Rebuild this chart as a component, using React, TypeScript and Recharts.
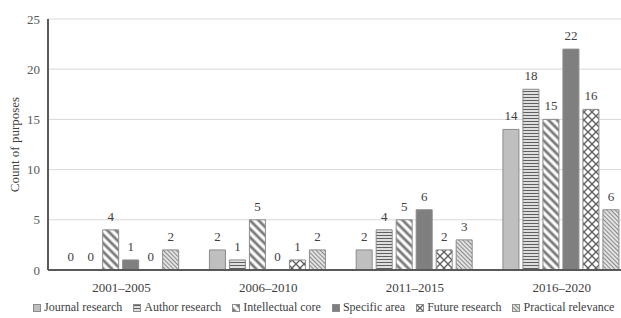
import React from 'react';
import { BarChart, Bar, XAxis, YAxis, CartesianGrid, Legend, LabelList, Cell } from 'recharts';

const periods = ['2001–2005', '2006–2010', '2011–2015', '2016–2020'];
const journalResearch = [0, 2, 2, 14];
const authorResearch = [0, 1, 4, 18];
const intellectualCore = [4, 5, 5, 15];
const specificArea = [1, 0, 6, 22];
const futureResearch = [0, 1, 2, 16];
const practicalRelevance = [2, 2, 3, 6];
const yTicks = [0, 5, 10, 15, 20, 25];

const series = [
  { key: 'journal', name: 'Journal research', values: journalResearch, fill: '#bfbfbf' },
  { key: 'author', name: 'Author research', values: authorResearch, fill: 'url(#pat-author)' },
  { key: 'intellectual', name: 'Intellectual core', values: intellectualCore, fill: 'url(#pat-intellectual)' },
  { key: 'specific', name: 'Specific area', values: specificArea, fill: '#7f7f7f' },
  { key: 'future', name: 'Future research', values: futureResearch, fill: 'url(#pat-future)' },
  { key: 'practical', name: 'Practical relevance', values: practicalRelevance, fill: 'url(#pat-practical)' },
];

const chartData = periods.map((period, i) => {
  const row: Record<string, string | number> = { period };
  series.forEach(s => { row[s.key] = s.values[i]; });
  return row;
});

const FONT = '"Liberation Serif", "Times New Roman", serif';
const TEXT = '#404040';
const EDGE = '#8c8c8c';

function PatternDefs() {
  return (
    <defs>
      <pattern id="pat-author" width="4" height="3" patternUnits="userSpaceOnUse">
        <rect width="4" height="3" fill="#ffffff" />
        <line x1="0" y1="1.5" x2="4" y2="1.5" stroke="#5f5f5f" strokeWidth="1.4" />
      </pattern>
      <pattern id="pat-intellectual" width="6" height="6" patternUnits="userSpaceOnUse" patternTransform="rotate(-45)">
        <rect width="6" height="6" fill="#ffffff" />
        <line x1="3" y1="0" x2="3" y2="6" stroke="#7a7a7a" strokeWidth="2.8" />
      </pattern>
      <pattern id="pat-future" width="8" height="8" patternUnits="userSpaceOnUse">
        <rect width="8" height="8" fill="#ffffff" />
        <line x1="0" y1="0" x2="8" y2="8" stroke="#5f5f5f" strokeWidth="1.3" />
        <line x1="8" y1="0" x2="0" y2="8" stroke="#5f5f5f" strokeWidth="1.3" />
      </pattern>
      <pattern id="pat-practical" width="3" height="3" patternUnits="userSpaceOnUse" patternTransform="rotate(-45)">
        <rect width="3" height="3" fill="#ffffff" />
        <line x1="1.5" y1="0" x2="1.5" y2="3" stroke="#8a8a8a" strokeWidth="1.5" />
      </pattern>
    </defs>
  );
}

// value label above each bar, zeros included
function renderValue(props: any) {
  const { x, y, width, value } = props;
  if (value === undefined || value === null) return null;
  return (
    <text x={Number(x) + Number(width) / 2} y={Number(y) - 9} textAnchor="middle" fontSize={13} fill={TEXT} fontFamily={FONT}>
      {value}
    </text>
  );
}

// zero bars get a hair-thin invisible rect so their "0" label still shows
const zeroSize = (value: any) => (Number(value) === 0 ? 0.01 : 0);

function LegendContent() {
  return (
    <div style={{ display: 'flex', alignItems: 'center', fontFamily: FONT, fontSize: 12, color: TEXT, paddingLeft: 33, whiteSpace: 'nowrap' }}>
      {series.map(s => (
        <div key={s.key} style={{ display: 'flex', alignItems: 'center', marginRight: 11, flexShrink: 0 }}>
          <svg width={8} height={8} style={{ marginRight: 3 }}>
            <rect x={0.5} y={0.5} width={7} height={7} fill={s.fill} stroke={EDGE} strokeWidth={1} />
          </svg>
          <span>{s.name}</span>
        </div>
      ))}
    </div>
  );
}

export default function App() {
  return (
    <div style={{ position: 'absolute', left: 0, top: 0, width: 621, height: 318, overflow: 'hidden', background: '#fff', fontFamily: FONT }}>
      <BarChart
        width={650}
        height={318}
        data={chartData}
        margin={{ top: 19, right: 15, left: 0, bottom: 0 }}
        barCategoryGap="10%"
        barGap={4}
      >
        <PatternDefs />
        <CartesianGrid vertical={false} stroke="#d9d9d9" />
        <XAxis
          dataKey="period"
          axisLine={{ stroke: '#595959', strokeWidth: 2 }}
          tickLine={false}
          tickMargin={7}
          height={30}
          tick={{ fontSize: 13, fill: TEXT, fontFamily: FONT }}
        />
        <YAxis
          domain={[0, 25]}
          ticks={yTicks}
          width={48}
          axisLine={{ stroke: '#595959', strokeWidth: 2 }}
          tickLine={false}
          tick={{ fontSize: 13, fill: '#595959', fontFamily: FONT }}
          label={{ value: 'Count of purposes', angle: -90, position: 'insideLeft', offset: 14, style: { fontSize: 13, fill: TEXT, fontFamily: FONT, textAnchor: 'middle' } }}
        />
        <Legend
          verticalAlign="bottom"
          content={<LegendContent />}
          wrapperStyle={{ left: 0, width: 621, height: 18 }}
        />
        {series.map(s => (
          <Bar
            key={s.key}
            dataKey={s.key}
            name={s.name}
            fill={s.fill}
            stroke={EDGE}
            strokeWidth={1}
            minPointSize={zeroSize}
            isAnimationActive={false}
          >
            {s.values.map((v, i) => (
              <Cell key={i} stroke={v === 0 ? 'none' : EDGE} fillOpacity={v === 0 ? 0 : 1} />
            ))}
            <LabelList dataKey={s.key} content={renderValue} />
          </Bar>
        ))}
      </BarChart>
    </div>
  );
}
